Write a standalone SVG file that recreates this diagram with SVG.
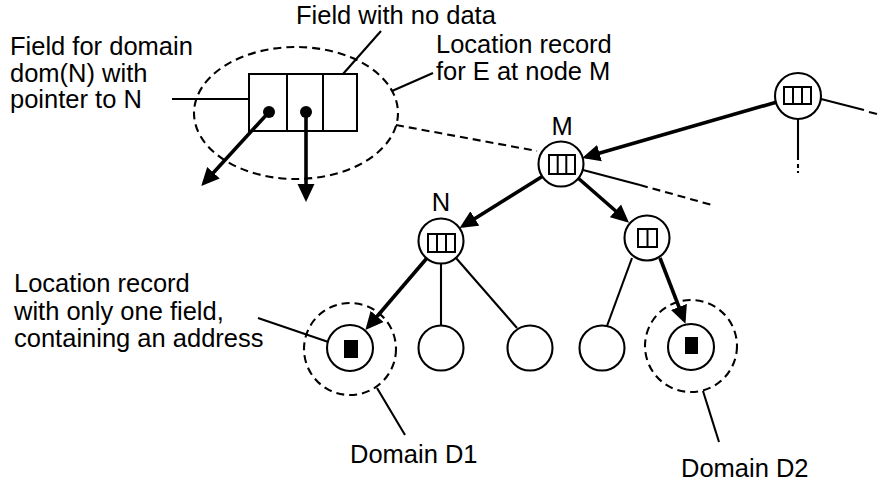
<svg xmlns="http://www.w3.org/2000/svg" width="880" height="484" viewBox="0 0 880 484">
<style>
text{font-family:"Liberation Sans",Arial,sans-serif;font-size:25.5px;fill:#000}
.c{text-anchor:middle}
.thin{stroke:#000;stroke-width:2.1;fill:none}
.bold{stroke:#000;stroke-width:3.6;fill:none}
.dash{stroke:#000;stroke-width:2.1;fill:none;stroke-dasharray:8 5}
.node{fill:#fff;stroke:#000;stroke-width:2.1}
.rec{fill:none;stroke:#000;stroke-width:2}
</style>
<defs>
<marker id="ah" viewBox="0 0 18 18" markerWidth="18" markerHeight="18" refX="14" refY="9" orient="auto" markerUnits="userSpaceOnUse">
<path d="M0,0.5 L18,9 L0,17.5 z" fill="#000"/>
</marker>
</defs>

<g id="connectors">
<!-- record callout -->
<line class="thin" x1="172" y1="99" x2="249" y2="99"/>
<line class="thin" x1="343" y1="74" x2="381" y2="31"/>
<line class="thin" x1="392" y1="91" x2="433" y2="73"/>
<line class="dash" x1="396" y1="125" x2="537" y2="151"/>
<line class="bold" x1="269" y1="112" x2="204" y2="183" marker-end="url(#ah)"/>
<line class="bold" x1="306" y1="112" x2="306" y2="198" marker-end="url(#ah)"/>
<!-- tree edges -->
<line class="bold" x1="777" y1="102" x2="586" y2="157" marker-end="url(#ah)"/>
<line class="thin" x1="821" y1="99" x2="864" y2="110"/>
<line class="thin" x1="869" y1="112" x2="877" y2="114"/>
<line class="thin" x1="798" y1="119" x2="798" y2="160"/>
<line class="thin" x1="798" y1="164" x2="798" y2="168"/>
<line class="thin" x1="798" y1="171" x2="798" y2="173"/>
<line class="thin" x1="583" y1="170" x2="640" y2="185"/>
<line class="dash" x1="640" y1="185" x2="712" y2="205"/>
<line class="bold" x1="543" y1="176" x2="463" y2="226" marker-end="url(#ah)"/>
<line class="bold" x1="578" y1="178" x2="626" y2="220" marker-end="url(#ah)"/>
<line class="bold" x1="427" y1="258" x2="368" y2="327" marker-end="url(#ah)"/>
<line class="thin" x1="441" y1="263" x2="441" y2="325"/>
<line class="thin" x1="456" y1="258" x2="517" y2="328"/>
<line class="thin" x1="632" y1="258" x2="607" y2="326"/>
<line class="bold" x1="660" y1="258" x2="684" y2="320" marker-end="url(#ah)"/>
<!-- leaders -->
<line class="thin" x1="258" y1="318" x2="346" y2="348"/>
<line class="thin" x1="377" y1="388" x2="405" y2="435"/>
<line class="thin" x1="703" y1="391" x2="719" y2="442"/>
</g>

<g id="record">
<ellipse class="dash" cx="296" cy="113" rx="102" ry="66"/>
<rect class="rec" x="249" y="74" width="108" height="57"/>
<line class="rec" x1="287" y1="74" x2="287" y2="131"/>
<line class="rec" x1="323" y1="74" x2="323" y2="131"/>
<circle cx="269" cy="112" r="6" fill="#000"/>
<circle cx="306" cy="112" r="6" fill="#000"/>
</g>

<g id="nodeT">
<circle class="node" cx="798" cy="96" r="23"/>
<rect class="rec" x="784" y="87" width="27" height="17"/>
<line class="rec" x1="793" y1="87" x2="793" y2="104"/>
<line class="rec" x1="802" y1="87" x2="802" y2="104"/>
</g>

<g id="nodeM">
<circle class="node" cx="561" cy="164" r="22.5"/>
<rect class="rec" x="549" y="155" width="26" height="19"/>
<line class="rec" x1="557.7" y1="155" x2="557.7" y2="174"/>
<line class="rec" x1="566.3" y1="155" x2="566.3" y2="174"/>
<text class="c" x="562" y="135">M</text>
</g>

<g id="nodeN">
<circle class="node" cx="441" cy="241" r="22.5"/>
<rect class="rec" x="428" y="234" width="27" height="18"/>
<line class="rec" x1="437" y1="234" x2="437" y2="252"/>
<line class="rec" x1="446" y1="234" x2="446" y2="252"/>
<text class="c" x="441" y="211">N</text>
</g>

<g id="nodeP">
<circle class="node" cx="647" cy="238" r="22.5"/>
<rect class="rec" x="638" y="229" width="19" height="18"/>
<line class="rec" x1="647.5" y1="229" x2="647.5" y2="247"/>
</g>

<g id="leafD1">
<circle class="dash" cx="350" cy="349" r="46"/>
<circle class="node" cx="350" cy="348" r="23"/>
<rect x="344" y="340" width="14" height="18" fill="#000"/>
</g>
<g id="leaf2"><circle class="node" cx="441" cy="348" r="22.5"/></g>
<g id="leaf3"><circle class="node" cx="530" cy="348" r="22.5"/></g>
<g id="leaf4"><circle class="node" cx="602" cy="348" r="22.5"/></g>
<g id="leafD2">
<circle class="dash" cx="691" cy="346" r="46"/>
<circle class="node" cx="691" cy="347" r="23"/>
<rect x="685" y="337" width="13" height="17" fill="#000"/>
</g>

<g id="labels">
<text x="296" y="24">Field with no data</text>
<text x="10" y="55">Field for domain</text>
<text x="10" y="82">dom(N) with</text>
<text x="10" y="108">pointer to N</text>
<text x="436" y="53">Location record</text>
<text x="436" y="80">for E at node M</text>
<text x="14" y="292">Location record</text>
<text x="14" y="320">with only one field,</text>
<text x="14" y="347">containing an address</text>
<text x="350" y="463">Domain D1</text>
<text x="681" y="477">Domain D2</text>
</g>
</svg>
